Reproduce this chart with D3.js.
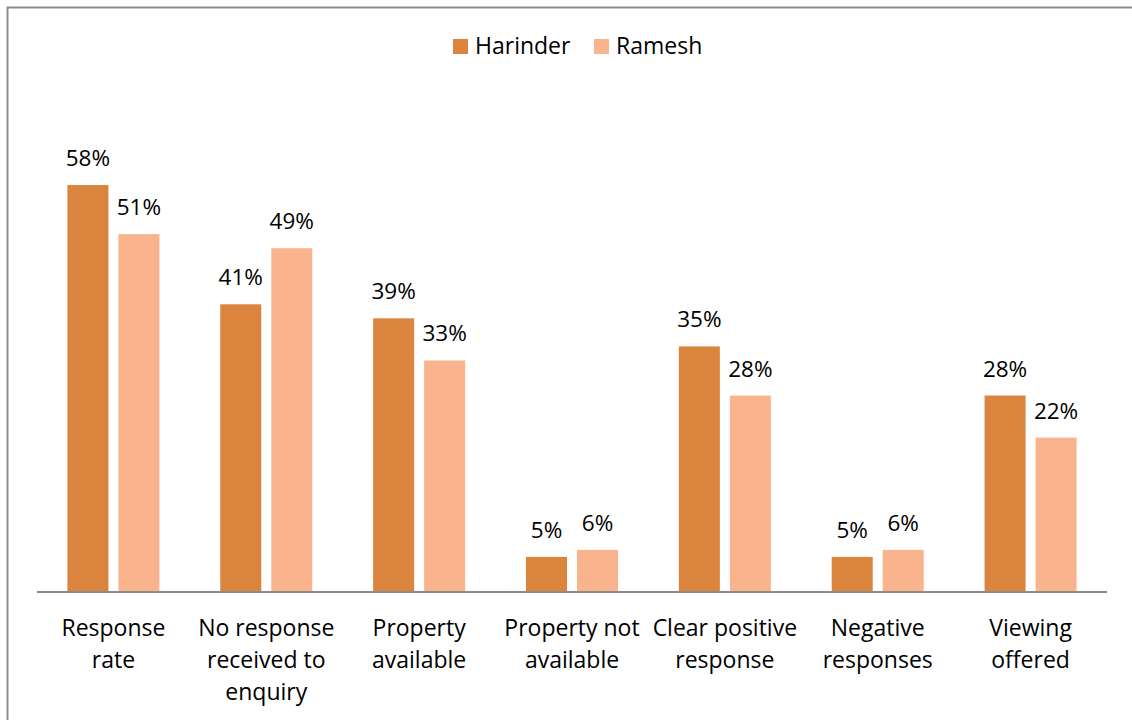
<!DOCTYPE html>
<html><head><meta charset="utf-8">
<script src="https://cdn.jsdelivr.net/npm/d3@7"></script>
<style>body{margin:0;background:#fff}svg{display:block}text{font-family:"Open Sans",Lato,sans-serif;fill:#000}</style>
</head><body><svg id="c" width="1132" height="720"></svg>
<script>
const categories = [["Response","rate"],["No response","received to","enquiry"],["Property","available"],["Property not","available"],["Clear positive","response"],["Negative","responses"],["Viewing","offered"]];
const seriesNames = ["Harinder","Ramesh"];
const harinder = [58,41,39,5,35,5,28];
const ramesh = [51,49,33,6,28,6,22];
const colors = ["#DB843D","#F9B48E"];

const svg = d3.select("#c");
svg.append("rect").attr("x",7.5).attr("y",7.5).attr("width",1140).attr("height",730).attr("fill","none").attr("stroke","#8c8c8c").attr("stroke-width",2);

const x0 = d3.scaleBand().domain(d3.range(categories.length)).range([37,1107]).paddingInner(0).paddingOuter(0);
const y = d3.scaleLinear().domain([0,60]).range([592,171]);

const data = [harinder, ramesh];
const g = svg.append("g");
categories.forEach((c,i)=>{
  const cx = x0(i)+x0.bandwidth()/2;
  data.forEach((s,j)=>{
    const bx = cx-46 + j*51;
    g.append("rect").attr("x",bx).attr("y",y(s[i])).attr("width",41).attr("height",592-y(s[i])).attr("fill",colors[j]);
    g.append("text").attr("x",bx+20.5).attr("y",y(s[i])-19).attr("text-anchor","middle").attr("font-size",22.5).text(s[i]+"%");
  });
  const t = g.append("text").attr("text-anchor","middle").attr("font-size",23);
  c.forEach((line,k)=>t.append("tspan").attr("x",cx).attr("y",636+k*32).text(line));
});
svg.append("line").attr("x1",37).attr("x2",1107).attr("y1",592).attr("y2",592).attr("stroke","#8c8c8c").attr("stroke-width",2);

const leg = svg.append("g");
const lx = [453,594];
seriesNames.forEach((n,j)=>{
  leg.append("rect").attr("x",lx[j]).attr("y",39).attr("width",15).attr("height",15).attr("fill",colors[j]);
  leg.append("text").attr("x",lx[j]+22).attr("y",54).attr("font-size",23).text(n);
});
</script></body></html>
